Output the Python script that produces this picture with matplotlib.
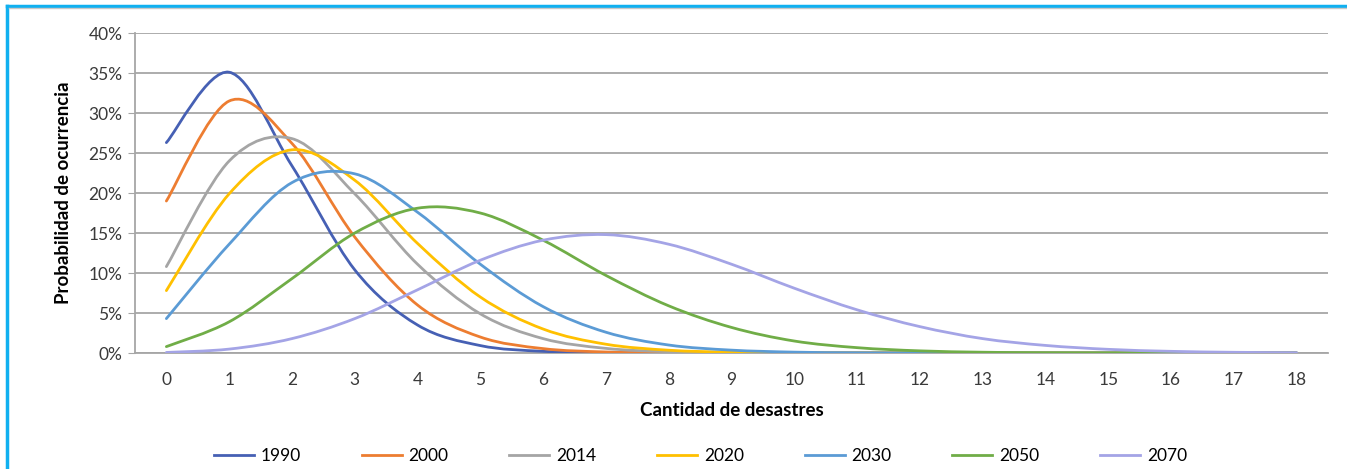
#!/usr/bin/env python3

import numpy as np
import matplotlib
matplotlib.use('Agg')
import matplotlib.pyplot as plt
from matplotlib.path import Path
from matplotlib.patches import PathPatch
from matplotlib.lines import Line2D
from matplotlib.ticker import PercentFormatter

# cantidad de desastres (0..18)
desastres = list(range(19))

# probabilidad de ocurrencia (%)
p1990 = [26.3, 35.1, 23.4, 10.4, 3.5, 0.93, 0.21, 0.04, 0.01, 0, 0, 0, 0, 0, 0, 0, 0, 0, 0]
p2000 = [19.0, 31.5, 26.2, 14.5, 6.0, 2.0, 0.55, 0.13, 0.03, 0.01, 0, 0, 0, 0, 0, 0, 0, 0, 0]
p2014 = [10.8, 24.0, 26.8, 19.9, 11.1, 4.9, 1.8, 0.58, 0.16, 0.04, 0.01, 0, 0, 0, 0, 0, 0, 0, 0]
p2020 = [7.8, 19.9, 25.4, 21.6, 13.7, 7.0, 3.0, 1.1, 0.35, 0.10, 0.02, 0, 0, 0, 0, 0, 0, 0, 0]
p2030 = [4.3, 13.6, 21.3, 22.4, 17.6, 11.1, 5.8, 2.6, 1.0, 0.36, 0.11, 0.03, 0.01, 0, 0, 0, 0, 0, 0]
p2050 = [0.8, 3.9, 9.3, 15.0, 18.1, 17.5, 14.1, 9.7, 5.9, 3.2, 1.5, 0.67, 0.27, 0.10, 0.03, 0.01, 0, 0, 0]
p2070 = [0.07, 0.49, 1.8, 4.3, 7.9, 11.6, 14.1, 14.8, 13.6, 11.1, 8.1, 5.4, 3.3, 1.8, 0.95, 0.46, 0.21, 0.09, 0.04]

years = ['1990', '2000', '2014', '2020', '2030', '2050', '2070']
series = [p1990, p2000, p2014, p2020, p2030, p2050, p2070]
colors = ['#4660B4', '#ED7D31', '#A5A5A5', '#FFC000', '#5B9BD5', '#70AD47', '#A4A4E6']


def smooth_path(xs, ys):
    # excel-style smoothed line: cubic bezier through every point
    pts = np.column_stack([xs, ys]).astype(float)
    ext = np.vstack([pts[0], pts, pts[-1]])
    verts = [pts[0]]
    codes = [Path.MOVETO]
    for i in range(len(pts) - 1):
        p0, p1, p2, p3 = ext[i], ext[i + 1], ext[i + 2], ext[i + 3]
        verts += [p1 + (p2 - p0) / 6, p2 - (p3 - p1) / 6, p2]
        codes += [Path.CURVE4] * 3
    return Path(verts, codes)


plt.rcParams['font.family'] = ['Lato', 'DejaVu Sans']
fig = plt.figure(figsize=(13.47, 4.69), dpi=100)
ax = fig.add_axes([0.1002, 0.2473, 0.8857, 0.6823])

for vals, c in zip(series, colors):
    ax.add_patch(PathPatch(smooth_path(desastres, vals), fill=False,
                           edgecolor=c, lw=2.0, capstyle='round', zorder=3))

ax.set_xlim(-0.5, 18.5)
ax.set_ylim(0, 40)
ax.set_yticks(range(0, 41, 5))
ax.yaxis.set_major_formatter(PercentFormatter(decimals=0))
ax.set_xticks(desastres)
ax.grid(axis='y', color='#A6A6A6', lw=1.3)
ax.set_axisbelow(True)
for s in ['top', 'right']:
    ax.spines[s].set_visible(False)
for s in ['left', 'bottom']:
    ax.spines[s].set_color('#A6A6A6')
    ax.spines[s].set_linewidth(1.3)
ax.tick_params(axis='y', length=5, color='#A6A6A6', labelsize=12.5, labelcolor='#3A3A3A', pad=4)
ax.tick_params(axis='x', length=0, labelsize=12.5, labelcolor='#3A3A3A', pad=14)

ax.set_xlabel('Cantidad de desastres', fontsize=13.5, fontweight='bold', labelpad=10)
ax.set_ylabel('Probabilidad de ocurrencia', fontsize=13.5, fontweight='bold', labelpad=12)

handles = [Line2D([], [], color=c, lw=2.0) for c in colors]
fig.legend(handles, years, loc='center', bbox_to_anchor=(0.520, 0.028), ncol=7,
           frameon=False, fontsize=12.5, handlelength=2.3, handletextpad=0.4,
           columnspacing=3.5)

# marco celeste del recuadro
fig.add_artist(Line2D([0.0055, 0.0055], [0, 0.987], transform=fig.transFigure, color='#10B0F0', lw=2.5))
fig.add_artist(Line2D([0.0055, 1], [0.987, 0.987], transform=fig.transFigure, color='#10B0F0', lw=2.5))
fig.add_artist(Line2D([0.007, 1], [0.982, 0.982], transform=fig.transFigure, color='#C8C8C8', lw=1))

fig.savefig('out.png', dpi=100)
